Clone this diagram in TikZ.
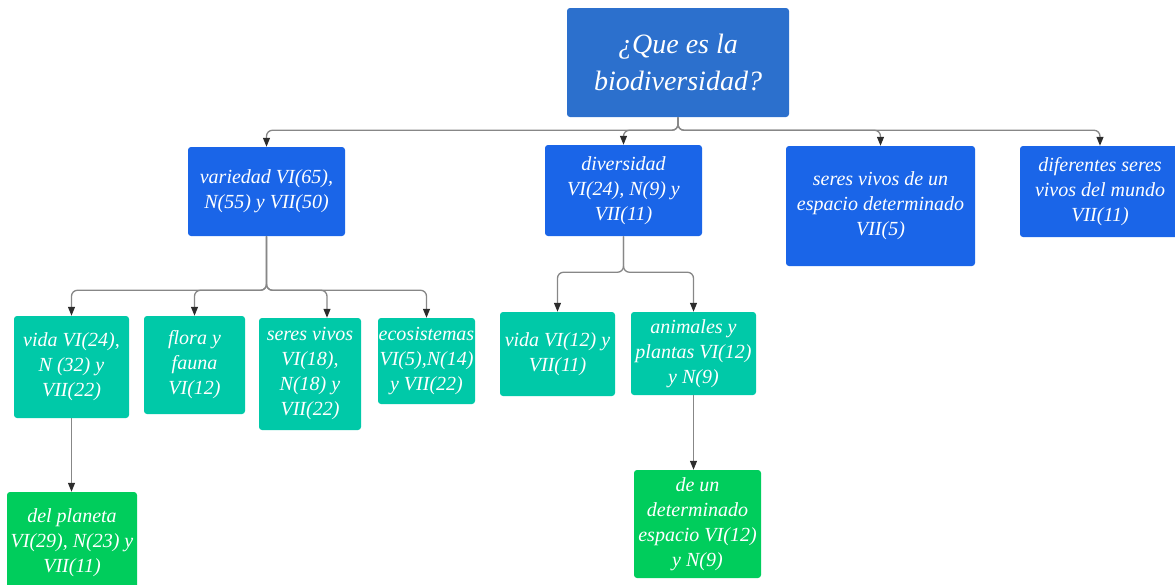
\documentclass[tikz,border=0pt]{standalone}
\usepackage{fontspec}
\setmainfont{Liberation Serif}
\usetikzlibrary{arrows.meta}

\definecolor{rootblue}{RGB}{44,112,205}
\definecolor{midblue}{RGB}{26,101,232}
\definecolor{tealc}{RGB}{0,201,168}
\definecolor{greenc}{RGB}{0,205,92}
\definecolor{linegray}{RGB}{135,135,135}
\definecolor{tipgray}{RGB}{45,45,45}

\tikzset{every picture/.style={line width=0.5pt}}
\tikzset{
  box/.style={draw=none, rounded corners=3pt, text=white, align=center, inner sep=0pt,
    font=\itshape\fontsize{20}{25}\selectfont},
  rootbox/.style={box, fill=rootblue, font=\itshape\fontsize{28}{37}\selectfont},
  bluebox/.style={box, fill=midblue},
  tealbox/.style={box, fill=tealc},
  greenbox/.style={box, fill=greenc},
  link/.style={draw=linegray, line width=1.3pt, rounded corners=6pt,
    -{Triangle[length=9pt,width=7pt,color=tipgray]}}
}

\begin{document}
\begin{tikzpicture}[x=1pt,y=1pt,yscale=-1,xscale=1]
\useasboundingbox (0,0) rectangle (1175,584);

% Root
\node [rootbox, minimum width=222pt, minimum height=109pt] (root) at (678,62.5) {¿Que es la\\biodiversidad?};

% First level
\node [bluebox, minimum width=157pt, minimum height=89pt] (variedad) at (266.5,191.5) {variedad VI(65),\\N(55) y VII(50)};
\node [bluebox, minimum width=157pt, minimum height=91pt] (diversidad) at (623.5,190.5) {diversidad\\VI(24), N(9) y\\VII(11)};
\node [bluebox, minimum width=189pt, minimum height=120pt] (espacio) at (880.5,206) {seres vivos de un\\espacio determinado\\VII(5)};
\node [bluebox, minimum width=160pt, minimum height=91pt] (mundo) at (1100,191.5) {diferentes seres\\vivos del mundo\\VII(11)};

% Second level, variedad
\node [tealbox, minimum width=115pt, minimum height=102pt] (vidaA) at (71.5,367) {vida VI(24),\\N (32) y\\VII(22)};
\node [tealbox, minimum width=101pt, minimum height=98pt] (flora) at (194.5,365) {flora y\\fauna\\VI(12)};
\node [tealbox, minimum width=102pt, minimum height=112pt] (seres) at (310,374) {seres vivos\\VI(18),\\N(18) y\\VII(22)};
\node [tealbox, minimum width=97pt, minimum height=86pt] (ecosis) at (426.5,361) {ecosistemas\\VI(5),N(14)\\y VII(22)};

% Second level, diversidad
\node [tealbox, minimum width=115pt, minimum height=84pt] (vidaB) at (557.5,354) {vida VI(12) y\\VII(11)};
\node [tealbox, minimum width=125pt, minimum height=83pt] (animales) at (693.5,353.5) {animales y\\plantas VI(12)\\y N(9)};

% Third level
\node [greenbox, minimum width=130pt, minimum height=102pt] (planeta) at (72,543) {del planeta\\VI(29), N(23) y\\VII(11)};
\node [greenbox, minimum width=127pt, minimum height=108pt] (deun) at (697.5,524) {de un\\determinado\\espacio VI(12)\\y N(9)};

% Connectors
\draw [link] (root.south) -- ++(0,13) -| (variedad.north);
\draw [link] (root.south) -- ++(0,13) -| (diversidad.north);
\draw [link] (root.south) -- ++(0,13) -| (espacio.north);
\draw [link] (root.south) -- ++(0,13) -| (mundo.north);

\draw [link] (variedad.south) -- ++(0,54) -| (vidaA.north);
\draw [link] (variedad.south) -- ++(0,54) -| (flora.north);
\draw [link] (variedad.south) -- ++(0,54) -| ([xshift=17pt]seres.north);
\draw [link] (variedad.south) -- ++(0,54) -| (ecosis.north);

\draw [link] (diversidad.south) -- ++(0,36) -| (vidaB.north);
\draw [link] (diversidad.south) -- ++(0,36) -| (animales.north);

\draw [link] (vidaA.south) -- (vidaA.south |- planeta.north);
\draw [link] (animales.south) -- (animales.south |- deun.north);
\end{tikzpicture}
\end{document}
